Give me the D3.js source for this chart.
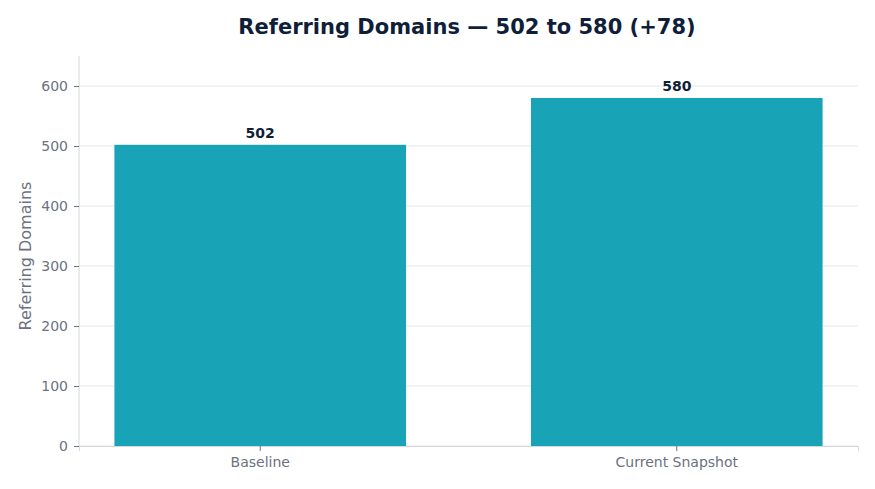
<!DOCTYPE html>
<html><head><meta charset="utf-8">
<script src="https://cdn.jsdelivr.net/npm/d3@7"></script>
<style>body{margin:0;background:#fff;font-family:"DejaVu Sans",sans-serif}</style>
</head><body><svg id="chart" width="875" height="489"></svg>
<script>
// chart data
const categories = ['Baseline', 'Current Snapshot']
const values = [502, 580]
const yTicks = [0, 100, 200, 300, 400, 500, 600]

const svg = d3.select('#chart')
const plotLeft = 79, plotRight = 858, plotTop = 56, plotBottom = 446

const x = d3.scaleBand().domain(categories).range([plotLeft, plotRight])
  .paddingInner(0.3).paddingOuter(0.085)
const y = d3.scaleLinear().domain([0, 650]).range([plotBottom, plotTop])

// grid
svg.append('g').selectAll('line').data(yTicks).enter().append('line')
  .attr('x1', plotLeft).attr('x2', plotRight)
  .attr('y1', d => y(d)).attr('y2', d => y(d))
  .attr('stroke', '#e3e5e8').attr('stroke-width', 1)

// bars
svg.append('g').selectAll('rect').data(values).enter().append('rect')
  .attr('x', (d, i) => x(categories[i]))
  .attr('width', x.bandwidth())
  .attr('y', d => y(d))
  .attr('height', d => plotBottom - y(d))
  .attr('fill', '#18a3b6')

// value labels
svg.append('g').selectAll('text').data(values).enter().append('text')
  .attr('x', (d, i) => x(categories[i]) + x.bandwidth() / 2)
  .attr('y', d => y(d) - 7)
  .attr('text-anchor', 'middle')
  .attr('font-size', 14).attr('font-weight', 'bold').attr('fill', '#0f1f3a')
  .text(d => d)

// axes
const yAxis = svg.append('g').attr('transform', `translate(${plotLeft},0)`)
  .call(d3.axisLeft(y).tickValues(yTicks).tickSize(5).tickPadding(6))
const xAxis = svg.append('g').attr('transform', `translate(0,${plotBottom})`)
  .call(d3.axisBottom(x).tickSize(5).tickPadding(6))
svg.selectAll('.domain').attr('stroke', '#d5d8dc')
svg.selectAll('.tick line').attr('stroke', '#6b7280')
svg.selectAll('.tick text').attr('fill', '#6b7280').attr('font-size', 14)
  .attr('font-family', '"DejaVu Sans",sans-serif')
yAxis.select('.domain').attr('d', `M0,${plotTop}V${plotBottom}`)

// axis title
svg.append('text')
  .attr('transform', `translate(31,${(plotTop + plotBottom) / 2 + 5}) rotate(-90)`)
  .attr('text-anchor', 'middle').attr('font-size', 16).attr('fill', '#6b7280')
  .text('Referring Domains')

// title
svg.append('text').attr('x', 467).attr('y', 34)
  .attr('text-anchor', 'middle').attr('font-size', 21).attr('font-weight', 'bold')
  .attr('fill', '#0f1f3a')
  .text('Referring Domains — 502 to 580 (+78)')
</script></body></html>
